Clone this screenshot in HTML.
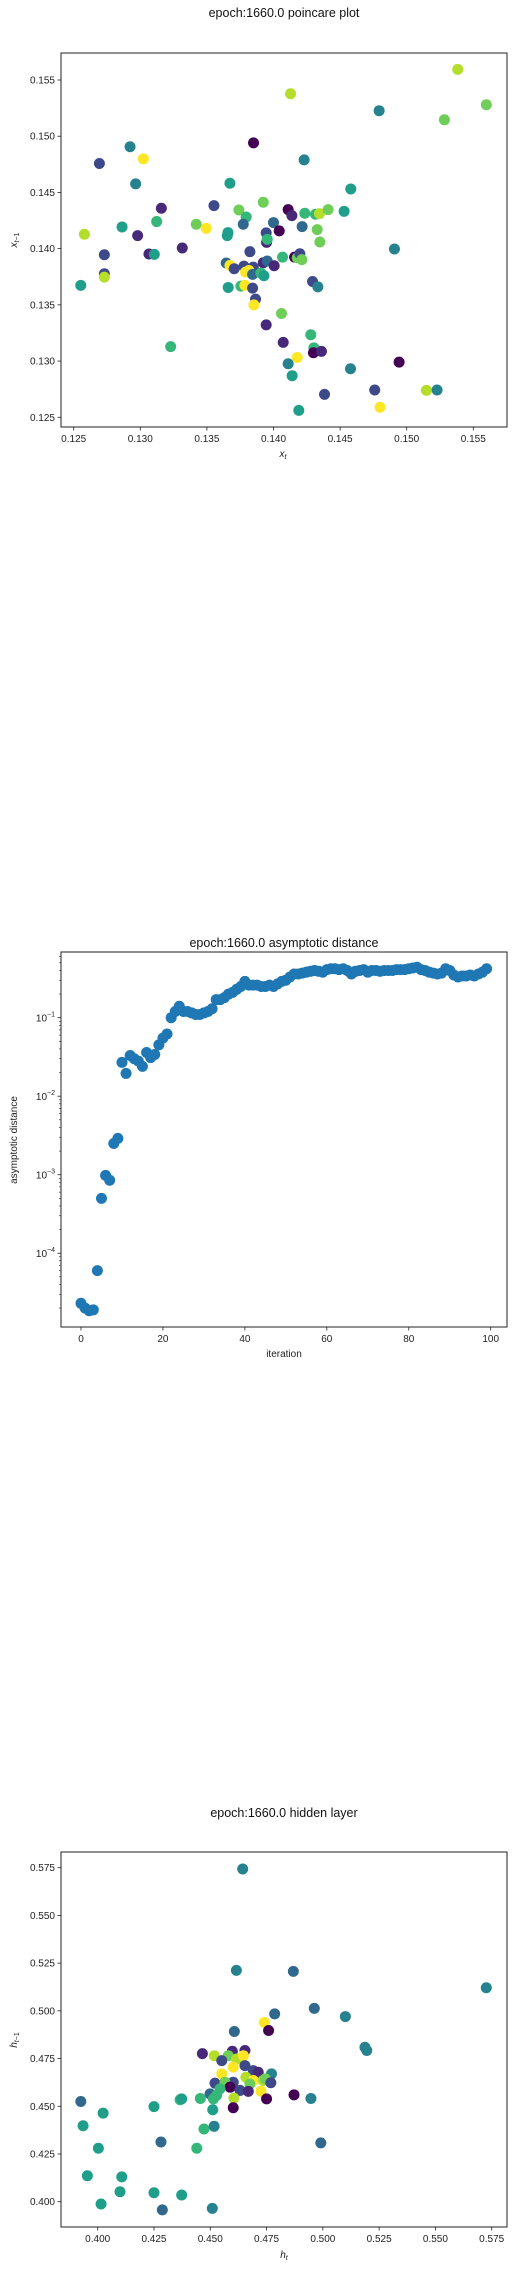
<!DOCTYPE html>
<html><head><meta charset="utf-8">
<style>
html,body{margin:0;padding:0;background:#fff;}
svg{display:block;font-family:"Liberation Sans","DejaVu Sans",sans-serif;}
</style></head>
<body>
<svg id="fig" width="514" height="2269" viewBox="0 0 514 2269" xmlns="http://www.w3.org/2000/svg"></svg>
<script>
// ---------- Plot 1 data: poincare ----------
const p1X=[0.15383,0.14128,0.15598,0.15283,0.14793,0.1385,0.12923,0.13023,0.12693,0.1423,0.12965,0.13673,0.1458,0.13553,0.13158,0.13923,0.1374,0.13795,0.1411,0.14138,0.14235,0.14315,0.14345,0.1441,0.1453,0.1400,0.13773,0.14215,0.14328,0.14348,0.12863,0.13123,0.1342,0.13495,0.1258,0.1298,0.13658,0.13653,0.13945,0.14043,0.13948,0.13953,0.13315,0.1273,0.13065,0.13105,0.13823,0.14908,0.13645,0.13673,0.13705,0.13778,0.13848,0.13923,0.13953,0.14005,0.14068,0.14158,0.14178,0.14198,0.14213,0.1379,0.13815,0.13843,0.13905,0.13928,0.14293,0.14333,0.1366,0.13755,0.13785,0.13843,0.12553,0.1273,0.1273,0.13865,0.13853,0.1406,0.13945,0.1428,0.14073,0.14303,0.143,0.1436,0.14178,0.13228,0.1411,0.1414,0.14943,0.14578,0.1476,0.14383,0.15148,0.15228,0.148,0.1419];
const p1Y=[0.15595,0.15378,0.1528,0.15146,0.15227,0.14941,0.14906,0.14799,0.14757,0.1479,0.14576,0.14582,0.14531,0.14383,0.14359,0.14413,0.14344,0.14282,0.14347,0.14294,0.14315,0.14306,0.14312,0.14347,0.14332,0.14232,0.14217,0.14196,0.14169,0.14059,0.14193,0.14241,0.14217,0.14181,0.14128,0.14116,0.14143,0.14116,0.1414,0.14158,0.14056,0.14083,0.14006,0.13946,0.13952,0.13949,0.13973,0.13997,0.13872,0.13851,0.13821,0.13845,0.13836,0.13875,0.1389,0.13848,0.13925,0.13925,0.13919,0.13955,0.13902,0.13791,0.13806,0.13771,0.13783,0.13759,0.13708,0.1366,0.13655,0.13667,0.13673,0.13649,0.13673,0.13777,0.13747,0.13551,0.135,0.13423,0.13322,0.13234,0.13166,0.13118,0.13074,0.13086,0.13032,0.13129,0.12976,0.1287,0.12991,0.12932,0.12743,0.12704,0.1274,0.12743,0.12589,0.12562];
const p1C=[8,8,7,7,4,0,4,9,2,4,4,5,5,2,1,7,7,6,0,1,6,6,8,7,5,3,3,3,7,7,5,6,7,9,8,1,5,5,2,0,1,6,1,2,1,5,2,4,3,9,2,2,2,1,3,1,6,0,7,2,7,9,9,3,6,5,2,4,5,6,9,2,5,2,8,2,9,7,1,6,1,6,0,1,9,6,4,5,0,4,2,2,8,4,9,5];
const p1XTicks=[0.125,0.130,0.135,0.140,0.145,0.150,0.155];
const p1YTicks=[0.125,0.130,0.135,0.140,0.145,0.150,0.155];
// ---------- Plot 2 data: asymptotic distance ----------
const p2Vals=[2.3e-5,2.0e-5,1.85e-5,1.9e-5,6e-5,5e-4,9.8e-4,8.5e-4,2.5e-3,2.9e-3,0.027,0.0195,0.033,0.030,0.028,0.024,0.036,0.031,0.034,0.045,0.055,0.062,0.10,0.12,0.14,0.12,0.12,0.115,0.11,0.11,0.115,0.12,0.13,0.17,0.17,0.18,0.20,0.21,0.23,0.25,0.29,0.26,0.26,0.26,0.25,0.25,0.26,0.25,0.27,0.29,0.30,0.33,0.36,0.36,0.37,0.38,0.39,0.40,0.39,0.38,0.41,0.42,0.42,0.41,0.42,0.40,0.36,0.39,0.40,0.41,0.38,0.40,0.40,0.39,0.40,0.40,0.40,0.41,0.41,0.41,0.42,0.43,0.44,0.41,0.40,0.38,0.37,0.36,0.37,0.42,0.40,0.35,0.33,0.34,0.34,0.35,0.34,0.36,0.38,0.42];
const p2XTicks=[0,20,40,60,80,100];
const p2YDecades=[-4,-3,-2,-1];
// ---------- Plot 3 data: hidden layer ----------
const p3X=[0.4644,0.4616,0.4869,0.5726,0.4962,0.4786,0.51,0.474,0.4759,0.4607,0.5187,0.5195,0.4465,0.4518,0.4598,0.4654,0.458,0.4551,0.4617,0.4647,0.4602,0.4654,0.4551,0.4691,0.4713,0.4772,0.4658,0.4691,0.4735,0.4745,0.4769,0.4521,0.4602,0.4565,0.4588,0.4676,0.4632,0.4669,0.4725,0.4543,0.4499,0.4528,0.4514,0.4605,0.475,0.4872,0.4947,0.4456,0.4366,0.4373,0.4602,0.4511,0.425,0.3925,0.4024,0.3935,0.4472,0.4517,0.4281,0.4991,0.4003,0.444,0.3954,0.4107,0.4099,0.425,0.4373,0.4015,0.4287,0.4509];
const p3Y=[0.5743,0.5212,0.5207,0.5121,0.5013,0.4984,0.497,0.4939,0.4897,0.4892,0.4809,0.4792,0.4776,0.4765,0.4788,0.4792,0.4765,0.4739,0.4748,0.4765,0.4705,0.4713,0.467,0.4687,0.4678,0.467,0.4652,0.4635,0.4635,0.4644,0.4623,0.4621,0.4626,0.4626,0.46,0.4617,0.4583,0.4578,0.4579,0.4591,0.4565,0.4557,0.4539,0.4543,0.4539,0.456,0.4541,0.4541,0.4534,0.4539,0.4492,0.4482,0.4498,0.4525,0.4464,0.4398,0.4381,0.4395,0.4313,0.4308,0.428,0.428,0.4136,0.413,0.4052,0.4047,0.4035,0.3988,0.3957,0.3965];
const p3C=[4,4,3,4,3,3,4,9,0,3,4,4,1,8,1,1,7,2,8,9,9,2,9,2,1,4,8,9,8,7,2,2,2,7,0,7,2,1,9,6,3,6,6,8,0,0,4,6,6,5,0,5,5,3,5,5,6,4,3,3,5,6,5,5,5,5,5,5,3,4];
const p3XTicks=[0.400,0.425,0.450,0.475,0.500,0.525,0.550,0.575];
const p3YTicks=[0.400,0.425,0.450,0.475,0.500,0.525,0.550,0.575];

const viridis=['#440154','#482878','#3e4989','#31688e','#26828e','#1f9e89','#35b779','#6ece58','#b5de2b','#fde725'];
const NS='http://www.w3.org/2000/svg';
const svg=document.getElementById('fig');
function mk(tag,attrs,parent,text){const e=document.createElementNS(NS,tag);for(const k in attrs)e.setAttribute(k,attrs[k]);if(text!==undefined)e.textContent=text;(parent||svg).appendChild(e);return e;}
function lin(d0,d1,r0,r1){return v=>r0+(v-d0)/(d1-d0)*(r1-r0);}

const L=61,R=507;
function frame(top,bot,name){
  const r=mk('rect',{x:L,y:top,width:R-L,height:bot-top,fill:'none',stroke:'#222','stroke-width':1});
  
  
}
function title(y,txt,name){
  const t=mk('text',{x:284,y:y,'text-anchor':'middle','font-size':'12.5px',fill:'#111'},svg,txt);
  
  
}
function xTicks(ticks,sx,bot,fmt,name){
  const g=mk('g',{});
  
  
  ticks.forEach(v=>{const x=sx(v);
    mk('line',{x1:x,x2:x,y1:bot,y2:bot+3.5,stroke:'#222','stroke-width':0.8},g);
    const t=mk('text',{x:x,y:bot+15,'text-anchor':'middle','font-size':'10px',fill:'#222'},g,fmt(v));
    
    
  });
}
function yTicks(ticks,sy,fmt,name){
  const g=mk('g',{});
  
  
  ticks.forEach(v=>{const y=sy(v);
    mk('line',{x1:L-3.5,x2:L,y1:y,y2:y,stroke:'#222','stroke-width':0.8},g);
    const t=mk('text',{x:L-6,y:y+3.5,'text-anchor':'end','font-size':'10px',fill:'#222'},g,fmt(v));
    
    
  });
}
function label(x,y,rot,html,name,size){
  const t=mk('text',{x:x,y:y,'text-anchor':'middle','font-size':(size||'10px'),fill:'#222',transform:rot?`rotate(-90 ${x} ${y})`:''});
  t.innerHTML=html;
  
  
}

// ---------- Plot 1 ----------
title(17,'epoch:1660.0 poincare plot','poincare-title');
const s1x=lin(0.125,0.155,73.7,473.3), s1y=lin(0.125,0.155,417.3,80);
const g1=mk('g',{});


p1X.forEach((v,i)=>{const c=mk('circle',{cx:s1x(v),cy:s1y(p1Y[i]),r:5.5,fill:viridis[p1C[i]]},g1);
  
  });
frame(53,427,'poincare');
xTicks(p1XTicks,s1x,427,v=>v.toFixed(3),'poincare-x-ticks');
yTicks(p1YTicks,s1y,v=>v.toFixed(3),'poincare-y-ticks');
label(283,457,false,'<tspan font-style="italic">x</tspan><tspan font-size="7px" font-style="italic" dy="2">t</tspan>','poincare-x-label');
label(17,240,true,'<tspan font-style="italic">x</tspan><tspan font-size="7px" dy="2"><tspan font-style="italic">t</tspan>−1</tspan>','poincare-y-label');

// ---------- Plot 2 ----------
title(947,'epoch:1660.0 asymptotic distance','asymptotic-title');
const s2x=lin(0,100,81,490.7);
const s2y=v=>1017.7-(Math.log10(v)+1)*78.5;
const g2=mk('g',{});


p2Vals.forEach((v,i)=>{const c=mk('circle',{cx:s2x(i),cy:s2y(v),r:5.5,fill:'#1f77b4'},g2);
  
  });
frame(952,1327,'asymptotic');
xTicks(p2XTicks,s2x,1327,v=>String(v),'asymptotic-x-ticks');
const gy2=mk('g',{});


p2YDecades.forEach(d=>{const y=s2y(Math.pow(10,d));
  mk('line',{x1:L-3.5,x2:L,y1:y,y2:y,stroke:'#222','stroke-width':0.8},gy2);
  const t=mk('text',{x:L-6,y:y+4,'text-anchor':'end','font-size':'10px',fill:'#222'},gy2);
  t.innerHTML=`10<tspan font-size="7px" dy="-5">−${-d}</tspan>`;
  
  
});
[-5,-4,-3,-2,-1].forEach(d=>{for(let k=2;k<10;k++){const y=s2y(k*Math.pow(10,d));
  if(y>952&&y<1327) mk('line',{x1:L-2,x2:L,y1:y,y2:y,stroke:'#222','stroke-width':0.6},gy2);}});
label(284,1357,false,'iteration','asymptotic-x-label');
label(17,1140,true,'asymptotic distance','asymptotic-y-label');

// ---------- Plot 3 ----------
title(1817,'epoch:1660.0 hidden layer','hidden-title');
const s3x=lin(0.400,0.575,97.7,491.7), s3y=lin(0.400,0.575,2201.7,1867.7);
const g3=mk('g',{});


p3X.forEach((v,i)=>{const c=mk('circle',{cx:s3x(v),cy:s3y(p3Y[i]),r:5.5,fill:viridis[p3C[i]]},g3);
  
  });
frame(1852,2227,'hidden');
xTicks(p3XTicks,s3x,2227,v=>v.toFixed(3),'hidden-x-ticks');
yTicks(p3YTicks,s3y,v=>v.toFixed(3),'hidden-y-ticks');
label(284,2258,false,'<tspan font-style="italic">h</tspan><tspan font-size="7px" font-style="italic" dy="2">t</tspan>','hidden-x-label');
label(17,2040,true,'<tspan font-style="italic">h</tspan><tspan font-size="7px" dy="2"><tspan font-style="italic">t</tspan>−1</tspan>','hidden-y-label');
</script>
</body></html>
